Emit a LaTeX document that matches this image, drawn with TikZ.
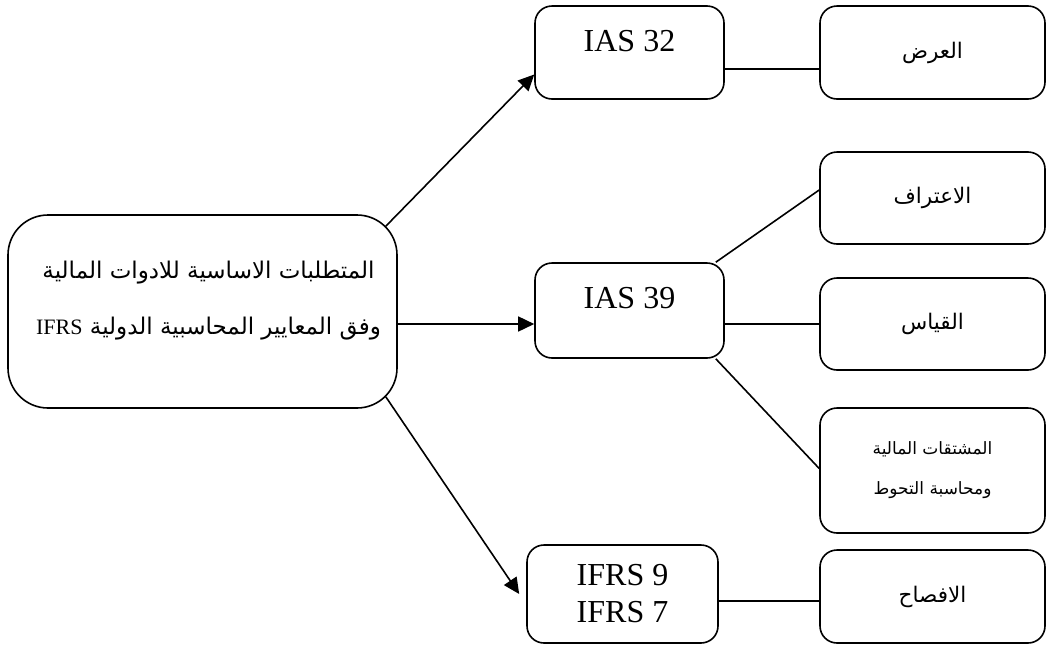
\documentclass[tikz,border=0pt]{standalone}
\usepackage{fontspec}
\setmainfont{Liberation Serif}
\newfontfamily\arabicfont[Script=Arabic]{DejaVu Sans}
\usetikzlibrary{arrows.meta}
\TeXXeTstate=1
\newcommand{\artext}[1]{{\arabicfont\beginR #1\endR}}

\begin{document}
\begin{tikzpicture}[x=1pt, y=-1pt, line width=1.6pt,
    box/.style={draw, rounded corners=17pt, inner sep=0pt},
    latin/.style={font=\fontsize{32}{37}\selectfont},
    arab/.style={font=\fontsize{21.5}{40}\selectfont\arabicfont},
    link/.style={-{Triangle[length=16pt,width=15pt]}}]
  \useasboundingbox (0,0) rectangle (1047,646);

  % The main box on the left
  \node[box, rounded corners=40pt, minimum width=389pt, minimum height=193pt] (main) at (202.5,311.5) {};
  \node[arab, font=\fontsize{23}{56}\selectfont\arabicfont, align=center] (main-t) at ([shift={(6pt,11pt)}]main.center)
    {\artext{المتطلبات الاساسية للادوات المالية}\\\artext{وفق المعايير المحاسبية الدولية \beginL{\rmfamily\fontsize{22}{56}\selectfont IFRS}\endL}};
  \coordinate (main-ne) at ([shift={(-12pt,-12pt)}]main.north east);
  \coordinate (main-se) at ([shift={(-12pt,12pt)}]main.south east);

  % The standards (middle column)
  \node[box, latin, minimum width=189pt, minimum height=93pt, text depth=24pt] (ias32) at (629.5,52.5) {IAS 32};
  \node[box, latin, minimum width=189pt, minimum height=95pt, text depth=26pt] (ias39) at (629.5,310.5) {IAS 39};
  \node[box, latin, align=center, minimum width=191pt, minimum height=98pt] (ifrs) at (622.5,594) {IFRS 9\\IFRS 7};

  % The topics (right column)
  \node[box, arab, minimum width=225pt, minimum height=93pt] (ard) at (932.5,52.5) {\artext{العرض}};
  \node[box, arab, minimum width=225pt, minimum height=92pt] (itiraf) at (932.5,198) {\artext{الاعتراف}};
  \node[box, arab, minimum width=225pt, minimum height=92pt] (qiyas) at (932.5,324) {\artext{القياس}};
  \node[box, arab, font=\fontsize{17}{40}\selectfont\arabicfont, align=center, minimum width=225pt, minimum height=125pt] (mushtaqat) at (932.5,470.5)
    {\artext{المشتقات المالية}\\\artext{ومحاسبة التحوط}};
  \node[box, arab, minimum width=225pt, minimum height=93pt] (ifsah) at (932.5,596.5) {\artext{الافصاح}};

  % Arrows from the main box
  \draw[link] (main-ne) -- ([yshift=-22pt]ias32.west);
  \draw[link] (main.east |- qiyas.west) -- (ias39.west |- qiyas.west);
  \draw[link] (main-se) -- ([xshift=-7pt]ifrs.west);

  % Plain lines to the topics
  \draw ([yshift=-16.5pt]ias32.east) -- ([yshift=-16.5pt]ard.west);
  \draw ([xshift=-9pt]ias39.north east) -- ([yshift=8pt]itiraf.west);
  \draw (ias39.east |- qiyas.west) -- (qiyas.west);
  \draw ([xshift=-9pt]ias39.south east) -- ([yshift=2pt]mushtaqat.west);
  \draw ([yshift=-7pt]ifrs.east) -- ([yshift=-4.5pt]ifsah.west);
\end{tikzpicture}
\end{document}
